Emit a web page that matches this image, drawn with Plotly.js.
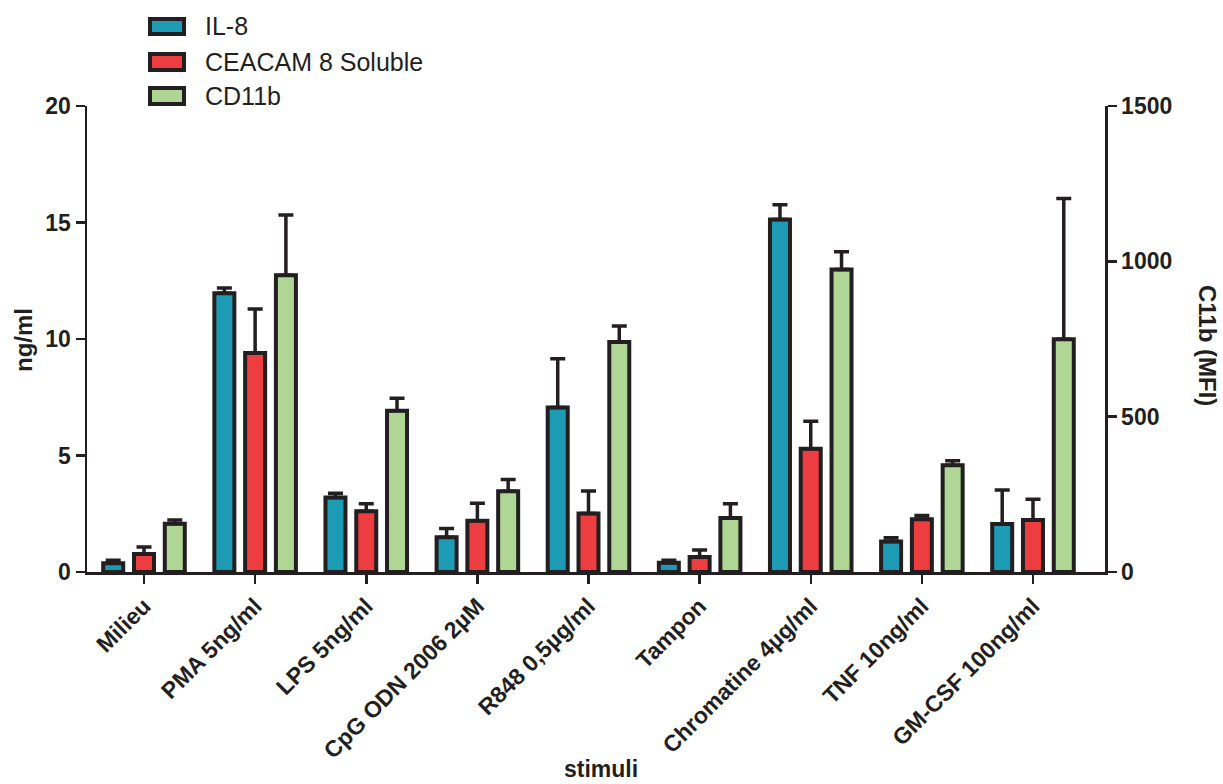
<!DOCTYPE html>
<html>
<head>
<meta charset="utf-8">
<script src="https://cdn.plot.ly/plotly-3.0.1.min.js"></script>
<style>html,body{margin:0;padding:0;background:#fff;}#chart{width:1223px;height:784px;}</style>
</head>
<body>
<div id="chart"></div>
<script>
var categories = ['Milieu','PMA 5ng/ml','LPS 5ng/ml','CpG ODN 2006 2µM','R848 0,5µg/ml','Tampon','Chromatine 4µg/ml','TNF 10ng/ml','GM-CSF 100ng/ml'];
var seriesNames = ['IL-8','CEACAM 8 Soluble','CD11b'];
var il8 = [0.38, 11.96, 3.2, 1.49, 7.06, 0.4, 15.13, 1.31, 2.06];
var il8Err = [0.12, 0.23, 0.18, 0.38, 2.09, 0.1, 0.63, 0.16, 1.46];
var ceacam = [0.77, 9.4, 2.61, 2.2, 2.51, 0.64, 5.29, 2.26, 2.23];
var ceacamErr = [0.3, 1.89, 0.32, 0.75, 0.97, 0.3, 1.18, 0.16, 0.89];
var cd11b = [155, 955, 519, 260, 740, 174, 974, 344, 749];
var cd11bErr = [12, 194, 40, 38, 52, 46, 57, 14, 453];
var leftTicks = [0, 5, 10, 15, 20];
var rightTicks = [0, 500, 1000, 1500];

var dark = '#231f20';
var colors = ['#1d9bb5', '#ed3d41', '#afd695'];
var FONT = 'Liberation Sans, Arial, sans-serif';
var W = 1223, H = 784, L = 87, R = 1105, T = 106, B = 572;
function px(x){ return (x - L) / (R - L); }
function py(y){ return (B - y) / (B - T); }
function zeros(a){ return a.map(function(){ return 0; }); }

function barTrace(name, y, err, color, offset, yaxis){
  return {
    type: 'bar', name: name, x: categories, y: y, yaxis: yaxis,
    offset: offset, width: 0.18,
    marker: {color: color, line: {color: dark, width: 4}},
    error_y: {type: 'data', symmetric: false, array: err, arrayminus: zeros(err),
              color: dark, thickness: 3.5, width: 7.5},
    hoverinfo: 'x+y'
  };
}

var data = [
  barTrace(seriesNames[0], il8, il8Err, colors[0], -0.367, 'y'),
  barTrace(seriesNames[1], ceacam, ceacamErr, colors[1], -0.09, 'y'),
  barTrace(seriesNames[2], cd11b, cd11bErr, colors[2], 0.187, 'y2')
];

var tickFont = {family: FONT, size: 23, weight: 700, color: dark};
var layout = {
  width: W, height: H,
  margin: {l: L, r: W - R, t: T, b: H - B, pad: 0},
  paper_bgcolor: '#ffffff', plot_bgcolor: '#ffffff',
  showlegend: false, barmode: 'overlay',
  xaxis: {type: 'category', range: [-0.513, 8.648], showline: true, linecolor: dark, linewidth: 2.5,
          ticks: 'outside', ticklen: 9, tickwidth: 2.5, tickcolor: dark, tickangle: -45,
          tickfont: tickFont, showgrid: false, zeroline: false},
  yaxis: {range: [0, 20], tickvals: leftTicks, ticktext: leftTicks.map(String), showline: true,
          linecolor: dark, linewidth: 2.5, ticks: 'outside', ticklen: 9, tickwidth: 2.5, tickcolor: dark,
          tickfont: tickFont, showgrid: false, zeroline: false},
  yaxis2: {overlaying: 'y', side: 'right', range: [0, 1500], tickvals: rightTicks, ticktext: rightTicks.map(String),
           showline: true, linecolor: dark, linewidth: 2.5, ticks: 'outside', ticklen: 9, tickwidth: 2.5,
           tickcolor: dark, tickfont: tickFont, showgrid: false, zeroline: false},
  shapes: [], annotations: []
};

var boxRows = [[19, 34], [54, 70], [88, 104]];
for (var i = 0; i < 3; i++) {
  layout.shapes.push({type: 'rect', xref: 'paper', yref: 'paper',
    x0: px(150), x1: px(184), y0: py(boxRows[i][1]), y1: py(boxRows[i][0]),
    fillcolor: colors[i], line: {color: dark, width: 4}});
  layout.annotations.push({xref: 'paper', yref: 'paper', x: px(203), y: py((boxRows[i][0] + boxRows[i][1]) / 2),
    xanchor: 'left', yanchor: 'middle', text: seriesNames[i], showarrow: false,
    font: {family: FONT, size: 25, color: dark}});
}
layout.annotations.push({xref: 'paper', yref: 'paper', x: px(23), y: py(340), text: 'ng/ml', textangle: -90,
  showarrow: false, xanchor: 'center', yanchor: 'middle', font: {family: FONT, size: 24, weight: 700, color: dark}});
layout.annotations.push({xref: 'paper', yref: 'paper', x: px(601), y: py(769), text: 'stimuli',
  showarrow: false, xanchor: 'center', yanchor: 'middle', font: {family: FONT, size: 23, weight: 700, color: dark}});
layout.annotations.push({xref: 'paper', yref: 'paper', x: px(1208), y: py(345), text: 'C11b (MFI)', textangle: 90,
  showarrow: false, xanchor: 'center', yanchor: 'middle', font: {family: FONT, size: 24, weight: 700, color: dark}});

Plotly.newPlot('chart', data, layout, {displayModeBar: false, staticPlot: true});
</script>
</body>
</html>
